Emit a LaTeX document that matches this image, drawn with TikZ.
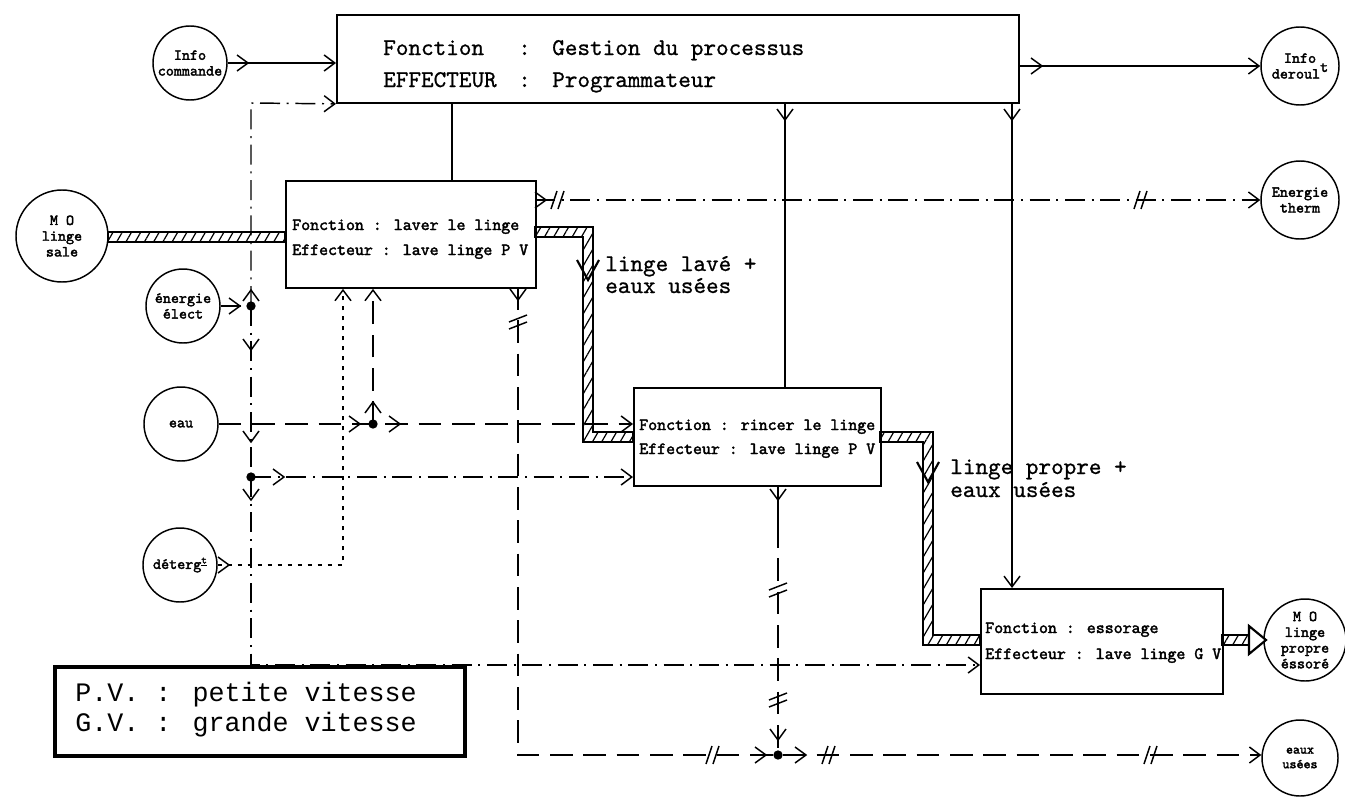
\documentclass[tikz,border=0pt]{standalone}
\usepackage{fontspec}
\newfontfamily\lgf{Liberation Mono}
\newfontfamily\lmb[Extension=.otf,FakeBold=2.2]{lmmono10-regular}
\newfontfamily\lmm[Extension=.otf,FakeBold=0.8]{lmmono10-regular}
\usetikzlibrary{arrows.meta,patterns.meta}
\tikzset{
  ln/.style={line width=1.1pt},
  elecline/.style={ln, dash pattern=on 15pt off 5pt on 1.5pt off 5pt},
  waterline/.style={ln, dash pattern=on 17pt off 8pt},
  detline/.style={ln, dash pattern=on 3.5pt off 4pt},
  tipend/.style={-{Straight Barb[length=8pt,width=12pt,line width=1.1pt]}},
  boxn/.style={draw, line width=1.4pt, inner sep=0pt, anchor=north west},
  circ/.style={circle, draw, line width=1.1pt, inner sep=0pt, minimum size=#1, align=center,
    font=\lmb\fontsize{11.5}{11.8}\selectfont},
  btxt/.style={anchor=base west, inner sep=0pt, font=\lmb\fontsize{12.8}{14}\selectfont},
  ttxt/.style={anchor=base west, inner sep=0pt, font=\lmm\fontsize{18}{20}\selectfont},
  ltxt/.style={anchor=base west, inner sep=0pt, font=\lmm\fontsize{18}{20}\selectfont},
  gtxt/.style={anchor=base west, inner sep=0pt, font=\lgf\fontsize{20}{24}\selectfont},
  band/.style={draw, line width=1.1pt, pattern={Lines[angle=60,distance=6pt,line width=0.9pt]}},
  jdot/.style={circle, fill, inner sep=0pt, minimum size=7pt},
  barb/.pic={\draw[line width=1.1pt,solid] (-11,-8) -- (0,0) -- (-11,8);},
  bigbarb/.pic={\draw[line width=1.6pt,solid] (-20,-11) -- (0,0) -- (-20,11);},
  slashh/.pic={\draw[line width=1.1pt,solid] (-6,9) -- (0,-9) (1,9) -- (7,-9);},
  slashv/.pic={\draw[line width=1.1pt,solid] (-9,0) -- (9,-7) (-9,7) -- (9,0);},
}
\begin{document}
\begin{tikzpicture}[x=0.75pt,y=-0.75pt]
\useasboundingbox (0,0) rectangle (1345,796);
\fill[white] (0,0) rectangle (1345,796);

% boxes
\node[boxn, minimum width=511.5pt, minimum height=66pt] (top) at (336,14) {};
\node[boxn, minimum width=187.5pt, minimum height=80.25pt] (laver) at (285,180) {};
\node[boxn, minimum width=185.25pt, minimum height=73.5pt] (rinc) at (633,387) {};
\node[boxn, minimum width=181.5pt, minimum height=78.75pt] (ess) at (980,588) {};

% box texts
\node[ttxt] (tf1) at (383,55) {Fonction};
\node[ttxt] (tf2) at (518,55) {:};
\node[ttxt] (tf3) at (552,55) {Gestion du processus};
\node[ttxt] (te1) at (383,87) {EFFECTEUR};
\node[ttxt] (te2) at (518,87) {:};
\node[ttxt] (te3) at (552,87) {Programmateur};
\node[btxt] (lv1) at (292,230) {Fonction : laver le linge};
\node[btxt] (lv2) at (292,255) {Effecteur : lave linge P V};
\node[btxt] (rc1) at (639,430) {Fonction : rincer le linge};
\node[btxt] (rc2) at (639,454) {Effecteur : lave linge P V};
\node[btxt] (es1) at (985,633) {Fonction : essorage};
\node[btxt] (es2) at (985,659) {Effecteur : lave linge G V};

% circles
\node[circ=55.5pt] (icmd) at (190,63) {Info\\commande};
\node[circ=69pt] (sale) at (62,236) {M O\\linge\\sale};
\node[circ=55.5pt] (elec) at (183,306) {énergie\\élect};
\node[circ=55.5pt] (eau) at (181,424) {eau};
\node[circ=55.5pt] (deter) at (180,565) {déterg\raisebox{4pt}{\fontsize{8}{8}\selectfont\underline{t}}};
\node[circ=58.5pt] (ider) at (1300,66) {Info\\deroul\raisebox{5pt}{t}};
\node[circ=58.5pt] (therm) at (1300,200) {Energie\\therm};
\node[circ=61.5pt] (mop) at (1305,640) {M O\\linge\\propre\\éssoré};
\node[circ=57pt, font=\lmb\fontsize{10}{11}\selectfont] (eus) at (1300,758) {eaux\\usées};

% labels of bands
\node[ltxt] (lb1) at (605,271) {linge lavé +};
\node[ltxt] (lb2) at (605,293) {eaux usées};
\node[ltxt] (lb3) at (950,474) {linge propre +};
\node[ltxt] (lb4) at (950,497) {eaux usées};

% information (solid) lines
\draw[ln,tipend] (icmd.east) -- (icmd.east -| top.west);
\pic at (248,63) {barb};
\draw[ln,tipend] (ider.west -| top.east) -- (ider.west);
\pic at (1042,66) {barb};
\draw[ln] (top.south -| 452,0) -- (laver.north -| 452,0);
\draw[ln] (top.south -| 785,0) -- (rinc.north -| 785,0);
\pic[rotate=-90] at (785,120) {barb};
\draw[ln,tipend] (top.south -| 1012,0) -- (ess.north -| 1012,0);
\pic[rotate=-90] at (1012,120) {barb};

% electric energy (dash-dot)
\coordinate (Ja) at (251,306);
\coordinate (Jb) at (251,477);
\coordinate (Ctop) at (251,103);
\coordinate (Cbot) at (251,665);
\draw[elecline] (elec.east) -- (Ja);
\pic at (240,306) {barb};
\draw[elecline,tipend] (Ja) -- (Ctop) -- (top.south west);
\draw[elecline] (Ja) -- (Jb);
\draw[elecline,tipend] (Jb) -- (Jb -| rinc.west);
\draw[elecline,tipend] (Jb) -- (Cbot) -- (Cbot -| ess.west);
\pic[rotate=90] at (251,290) {barb};
\pic[rotate=-90] at (251,350) {barb};
\pic[rotate=-90] at (251,442) {barb};
\pic at (284,477) {barb};
\pic[rotate=-90] at (251,500) {barb};
\node[jdot] (ja) at (Ja) {};
\node[jdot] (jb) at (Jb) {};

% thermal energy
\coordinate (Lt) at (535,200);
\draw[elecline,tipend] (Lt) -- (Lt -| therm.west);
\pic at (546,200) {barb};
\pic at (557,200) {slashh};
\pic at (1140,200) {slashh};

% water
\coordinate (Jc) at (373,424);
\draw[waterline,tipend] (eau.east) -- (eau.east -| rinc.west);
\draw[waterline,tipend] (Jc) -- (Jc |- laver.south);
\pic at (360,424) {barb};
\pic at (400,424) {barb};
\pic[rotate=90] at (373,402) {barb};
\node[jdot] (jc) at (Jc) {};

% detergent
\coordinate (Dc) at (343,565);
\draw[detline,tipend] (deter.east) -- (Dc) -- (Dc |- laver.south);
\pic at (229,565) {barb};

% drains
\coordinate (Lb) at (518,287);
\coordinate (Dk) at (518,755);
\coordinate (Rb) at (778,485);
\coordinate (Jd) at (778,755);
\draw[waterline,tipend] (Lb) -- (Dk) -- (Dk -| eus.west);
\draw[ln] (Rb) -- (778,525);
\draw[waterline] (778,525) -- (Jd);
\pic[rotate=-90] at (518,300) {barb};
\pic at (518,322) {slashv};
\pic[rotate=-90] at (778,500) {barb};
\pic at (778,590) {slashv};
\pic at (778,700) {slashv};
\pic[rotate=-90] at (778,740) {barb};
\pic at (712,755) {slashh};
\pic at (766,755) {barb};
\pic at (806,755) {barb};
\pic at (828,755) {slashh};
\pic at (1150,755) {slashh};
\node[jdot] (jd) at (Jd) {};

% material bands
\draw[band] (108,232) -- (285,232) -- (285,242) -- (108,242) -- cycle;
\draw[band] (535,227) -- (593,227) -- (593,432) -- (633,432) -- (633,442) -- (583,442) -- (583,237) -- (535,237) -- cycle;
\draw[band] (880,432) -- (933,432) -- (933,635) -- (980,635) -- (980,645) -- (923,645) -- (923,442) -- (880,442) -- cycle;
\draw[band] (1222,635) -- (1250,635) -- (1250,645) -- (1222,645) -- cycle;
\draw[line width=1.6pt, fill=white] (1249,626) -- (1266,640) -- (1249,654) -- cycle;
\pic[rotate=-90] at (588,280) {bigbarb};
\pic[rotate=-90] at (928,482) {bigbarb};

% legend
\node[boxn, line width=3pt, fill=white, minimum width=307.5pt, minimum height=66.75pt] (leg) at (53,665) {};
\node[gtxt] (lg1) at (75,701) {P.V. : petite vitesse};
\node[gtxt] (lg2) at (75,731) {G.V. : grande vitesse};
\end{tikzpicture}
\end{document}
